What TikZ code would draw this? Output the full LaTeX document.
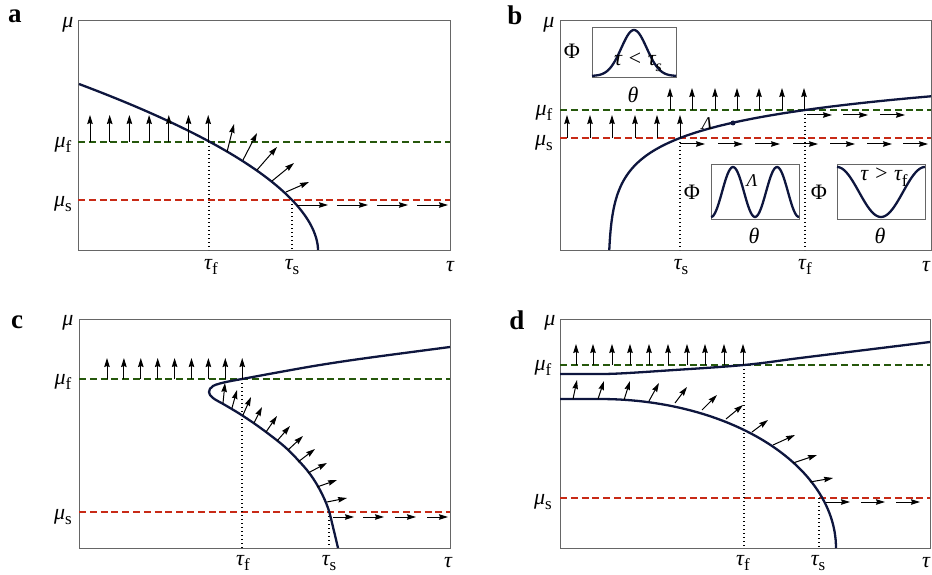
\documentclass[tikz,border=0pt]{standalone}
\usepackage{fontspec}
\setmainfont{Liberation Serif}
\usetikzlibrary{arrows.meta}

\definecolor{navy}{RGB}{14,22,62}
\definecolor{fgreen}{RGB}{38,88,12}
\definecolor{sred}{RGB}{200,42,22}

\newcommand\subup[1]{\raisebox{-0.26em}{\fontsize{17}{17}\selectfont\upshape #1}}
\newcommand\subit[1]{\raisebox{-0.26em}{\fontsize{16}{16}\selectfont\itshape #1}}

\begin{document}
\begin{tikzpicture}[
  x=1pt, y=-1pt,
  tag/.style={
    font=\fontsize{27}{29}\selectfont\bfseries,
    inner sep=0pt
  },
  lab/.style={
    font=\fontsize{22}{24}\selectfont\itshape,
    inner sep=0pt
  },
  upl/.style={
    font=\fontsize{22}{24}\selectfont\upshape,
    inner sep=0pt
  },
  frame/.style={
    draw=black!60,
    line width=1pt
  },
  curve/.style={
    draw=navy,
    line width=2.3pt,
    line join=round
  },
  fline/.style={
    draw=fgreen,
    line width=1.8pt,
    dash pattern=on 7pt off 3.8pt
  },
  sline/.style={
    draw=sred,
    line width=1.8pt,
    dash pattern=on 7pt off 3.8pt
  },
  guide/.style={
    draw=black,
    line width=1.3pt,
    dash pattern=on 1.3pt off 2.7pt
  },
  vec/.style={
    -{Stealth[length=9pt, width=5.5pt, inset=1pt]},
    line width=1pt
  }
]
\useasboundingbox (0,0) rectangle (932,575);

% Panel a
\draw[frame] (78,21) rectangle (450,250);
\draw[fline] (78,142) -- (450,142);
\draw[sline] (78,200) -- (450,200);
\draw[guide] (209,142) -- (209,250);
\draw[guide] (292,200) -- (292,250);
\draw[curve] plot[domain=0.05:166, samples=70] ({318-93.6*(\x/100)^1.85}, {250-\x});
\foreach \k in {0,...,6}
  \draw[vec] ({90+19.7*\k},142) -- ++(0,-27);
\foreach \xa/\ya/\xb/\yb in {227/152/234/124, 243/160/257/133, 257/170/277/147,
                             272/181/294/163, 286/192/309/182}
  \draw[vec] (\xa,\ya) -- (\xb,\yb);
\foreach \x in {297,337,377,417}
  \draw[vec] (\x,205) -- ++(31,0);
\node[tag] (a-tag) at (15,16) {a};
\node[lab] (a-mu) at (68,25) {μ};
\node[lab] (a-muf) at (63,145) {μ\subup{f}};
\node[lab] (a-mus) at (63,204) {μ\subup{s}};
\node[lab] (a-tauf) at (211,267) {τ\subup{f}};
\node[lab] (a-taus) at (292,267) {τ\subup{s}};
\node[lab] (a-tau) at (450,267) {τ};

% Panel b
\draw[frame] (560,21) rectangle (931,250);
\draw[fline] (560,110) -- (931,110);
\draw[sline] (560,138) -- (931,138);
\draw[guide] (680,138) -- (680,250);
\draw[guide] (805,110) -- (805,250);
\draw[curve] plot[domain=0.248:5.778, samples=90] ({608+exp(\x)}, {256.9-27.8*\x});
\fill[navy] (733,123) circle[radius=2.5];
\foreach \x in {567,590,612,635,657,680}
  \draw[vec] (\x,138) -- (\x,115);
\foreach \x in {670,692,715,737,759,782,804}
  \draw[vec] (\x,110) -- (\x,88);
\foreach \x in {807,843,880}
  \draw[vec] (\x,115) -- ++(25,0);
\foreach \x in {680,718,755,793,830,867,903}
  \draw[vec] (\x,144) -- ++(25,0);
\node[tag] (b-tag) at (515,15) {b};
\node[lab] (b-mu) at (549,25) {μ};
\node[lab] (b-muf) at (544,113) {μ\subup{f}};
\node[lab] (b-mus) at (544,143) {μ\subup{s}};
\node[lab] (b-taus) at (681,267) {τ\subup{s}};
\node[lab] (b-tauf) at (805,267) {τ\subup{f}};
\node[lab] (b-tau) at (926,267) {τ};
\node[lab, font=\fontsize{18}{20}\selectfont\itshape] (b-lam) at (707,124) {Λ};

% Insets of panel b
\draw[frame] (592,28) rectangle (676,78);
\draw[curve] plot[domain=592:676, samples=60] (\x, {76-46*exp(-((\x-634)/18)^2)});
\node[lab] (ph1-tau) at (638,62) {τ < τ\subit{s}};
\node[upl] (ph1-phi) at (572,51) {Φ};
\node[lab] (ph1-th) at (633,95) {θ};

\draw[frame] (711,165) rectangle (799,219);
\draw[curve] plot[domain=711:799, samples=70] (\x, {192-25*cos((\x-733)/44*360)});
\node[lab, font=\fontsize{18}{20}\selectfont\itshape] (ph2-lam) at (752,181) {Λ};
\node[upl] (ph2-phi) at (692,192) {Φ};
\node[lab] (ph2-th) at (754,236) {θ};

\draw[frame] (837,165) rectangle (925,219);
\draw[curve] plot[domain=837:925, samples=60] (\x, {192-25*cos((\x-837)/88*360)});
\node[lab] (ph3-tau) at (884,177) {τ > τ\subup{f}};
\node[upl] (ph3-phi) at (819,192) {Φ};
\node[lab] (ph3-th) at (880,236) {θ};

% Panel c
\draw[frame] (79,319) rectangle (450,548);
\draw[fline] (79,379) -- (450,379);
\draw[sline] (79,512) -- (450,512);
\draw[guide] (242,379) -- (242,548);
\draw[guide] (329,512) -- (329,548);
\draw[curve] plot[smooth, tension=0.6] coordinates {
  (338,548) (333,527) (328,508) (320,490) (310,474) (298,460) (285,447)
  (270,435) (255,424) (240,414) (225,405) (213,398) (209,392) (213,386)
  (226,382) (242,379) (280,372) (320,365) (367,358) (450,347)};
\foreach \k in {0,...,8}
  \draw[vec] ({107+16.9*\k},379) -- ++(0,-21);
\foreach \xa/\ya/\xb/\yb in {223/403/225/383, 232/408/237/390, 243/415/251/397,
                             254/423/262/407, 266/432/277/416, 277/441/290/426,
                             288/450/303/436, 298/462/315/449, 308/473/327/463,
                             317/487/337/480, 327/502/347/498}
  \draw[vec] (\xa,\ya) -- (\xb,\yb);
\foreach \x in {333,363,395,427}
  \draw[vec] (\x,517) -- ++(21,0);
\node[tag] (c-tag) at (17,322) {c};
\node[lab] (c-mu) at (68,323) {μ};
\node[lab] (c-muf) at (63,382) {μ\subup{f}};
\node[lab] (c-mus) at (63,517) {μ\subup{s}};
\node[lab] (c-tauf) at (243,563) {τ\subup{f}};
\node[lab] (c-taus) at (329,563) {τ\subup{s}};
\node[lab] (c-tau) at (448,563) {τ};

% Panel d
\draw[frame] (560,319) rectangle (930,548);
\draw[fline] (560,365) -- (930,365);
\draw[sline] (560,498) -- (930,498);
\draw[guide] (744,365) -- (744,548);
\draw[guide] (819,498) -- (819,548);
\draw[curve] plot[smooth, tension=0.6] coordinates {
  (560,374) (590,374) (617,373.6) (667,370.5) (744,365) (800,358) (865,350) (930,342)};
\draw[curve] (560,399) -- (600,399)
  plot[domain=0:90, samples=60] ({600+236*sin(\x)}, {548-149*cos(\x)});
\foreach \x in {576,593,612,630,649,668,687,705,724,743}
  \draw[vec] (\x,365) -- (\x,344);
\foreach \xa/\ya/\xb/\yb in {573/399/577/380, 598/399/604/381, 624/400/630/381,
                             649/401/659/383, 675/403/687/387, 702/410/717/395,
                             726/419/743/405, 752/432/768/420, 773/445/795/435,
                             793/463/817/455, 810/482/833/478}
  \draw[vec] (\xa,\ya) -- (\xb,\yb);
\foreach \x in {826,861,896}
  \draw[vec] (\x,502) -- ++(24,0);
\node[tag] (d-tag) at (517,320) {d};
\node[lab] (d-mu) at (550,323) {μ};
\node[lab] (d-muf) at (543,368) {μ\subup{f}};
\node[lab] (d-mus) at (543,502) {μ\subup{s}};
\node[lab] (d-tauf) at (743,563) {τ\subup{f}};
\node[lab] (d-taus) at (818,563) {τ\subup{s}};
\node[lab] (d-tau) at (926,563) {τ};

\end{tikzpicture}
\end{document}
